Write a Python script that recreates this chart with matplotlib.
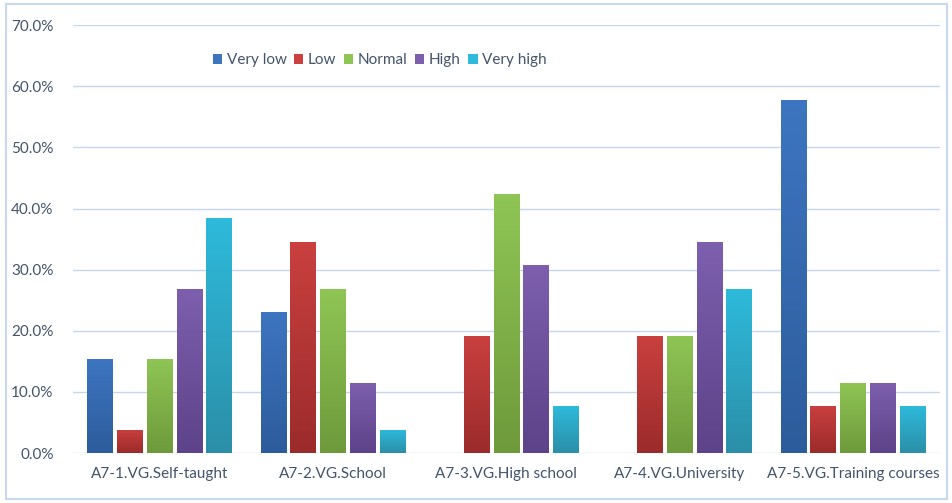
import matplotlib.pyplot as plt
import matplotlib.patches as mpatches
import numpy as np

plt.rcParams['font.family'] = ['Lato', 'DejaVu Sans']

# Data
categories = ['A7-1.VG.Self-taught', 'A7-2.VG.School', 'A7-3.VG.High school',
              'A7-4.VG.University', 'A7-5.VG.Training courses']
levels = ['Very low', 'Low', 'Normal', 'High', 'Very high']
very_low = [15.4, 23.1, 0.0, 0.0, 57.7]
low = [3.8, 34.6, 19.2, 19.2, 7.7]
normal = [15.4, 26.9, 42.3, 19.2, 11.5]
high = [26.9, 11.5, 30.8, 34.6, 11.5]
very_high = [38.5, 3.8, 7.7, 26.9, 7.7]
series = [very_low, low, normal, high, very_high]

# top / bottom colours of the gradient fill
top_colors = ['#3d75c0', '#c9403f', '#8fc555', '#7d5fae', '#2ebadb']
bot_colors = ['#2d5c9c', '#9c2b2b', '#6e9a3b', '#5d4389', '#2b8fa8']

text_color = '#44546a'
grid_color = '#c6d6ec'

fig = plt.figure(figsize=(9.53, 5.03), dpi=100)
ax = fig.add_axes([0.0766, 0.0994, 0.9094, 0.8506])

x = np.arange(len(categories))
width = 0.148
pitch = 0.172

for i, (vals, tc, bc) in enumerate(zip(series, top_colors, bot_colors)):
    pos = x + (i - 2) * pitch
    bars = ax.bar(pos, vals, width, color=tc, label=levels[i], zorder=2)
    grad = np.linspace(0, 1, 64).reshape(-1, 1)
    c1 = np.array(plt.matplotlib.colors.to_rgb(tc))
    c2 = np.array(plt.matplotlib.colors.to_rgb(bc))
    img = c2 + (c1 - c2) * grad[:, :, None]
    for b in bars:
        if b.get_height() <= 0:
            continue
        x0, w, h = b.get_x(), b.get_width(), b.get_height()
        im = ax.imshow(img, extent=(x0, x0 + w, 0, h), origin='lower',
                       aspect='auto', zorder=3)
        im.set_clip_path(b)

ax.set_xlim(-0.5, 4.5)
ax.set_ylim(0, 70)
ax.set_yticks(np.arange(0, 71, 10))
ax.set_yticklabels([f'{v:.1f}%' for v in np.arange(0, 71, 10)])
ax.set_xticks(x)
ax.set_xticklabels(categories)
ax.tick_params(axis='both', length=0, labelsize=11, colors=text_color)
ax.tick_params(axis='x', pad=10)
ax.tick_params(axis='y', pad=14)
ax.grid(axis='y', color=grid_color, linewidth=1, zorder=0)
for s in ax.spines.values():
    s.set_visible(False)

leg = ax.legend(loc='center', bbox_to_anchor=(0.354, 0.918), ncol=5, frameon=False,
                handlelength=0.6, handleheight=0.6, handletextpad=0.3,
                columnspacing=0.5, fontsize=11)
for t in leg.get_texts():
    t.set_color(text_color)

# outer chart border
fig.patches.append(mpatches.Rectangle((0.006, 0.008), 0.988, 0.984, transform=fig.transFigure,
                                      fill=False, edgecolor='#c9d8ee', linewidth=1.5))

fig.savefig('out.png', dpi=100)
